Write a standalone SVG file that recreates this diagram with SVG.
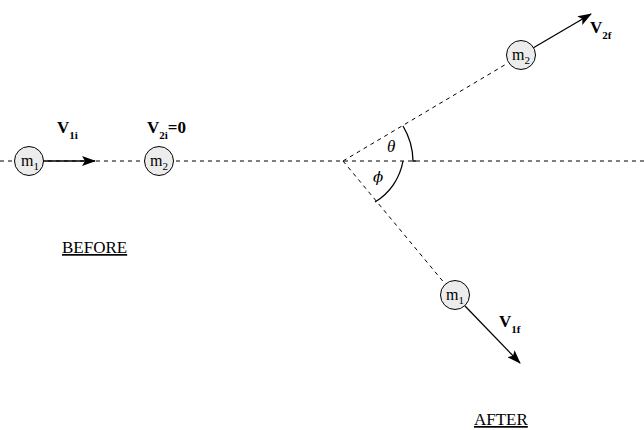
<svg xmlns="http://www.w3.org/2000/svg" width="644" height="430" viewBox="0 0 644 430">
<defs>
<marker id="ah" markerWidth="14" markerHeight="10" refX="13" refY="5" orient="auto" markerUnits="userSpaceOnUse">
<path d="M0,0 L14,5 L0,10 L3,5 Z" fill="#000"/>
</marker>
<style>
.dash{stroke:#000;stroke-width:1;stroke-dasharray:4,4;fill:none}
.ball{fill:#ececec;stroke:#000;stroke-width:1}
.vec{stroke:#000;stroke-width:1.3;fill:none;marker-end:url(#ah)}
.arc{stroke:#000;stroke-width:1.3;fill:none}
text{font-family:"Liberation Serif","Times New Roman",serif;fill:#000}
.m{font-size:16px}
.ms{font-size:11px}
.v{font-size:17px;font-weight:bold}
.sub{font-size:11px;font-weight:bold}
.lbl{font-size:17px;text-decoration:underline}
.g{font-size:17px;font-style:italic}
.phi{font-family:"DejaVu Serif",serif;font-size:15px;font-style:italic}
</style>
</defs>
<rect width="644" height="430" fill="#fff"/>
<g id="connectors">
<line class="dash" x1="0" y1="161" x2="644" y2="161"/>
<line class="dash" x1="343" y1="161" x2="508" y2="63"/>
<line class="dash" x1="343" y1="161" x2="446" y2="285"/>
<line class="vec" x1="43" y1="161" x2="95" y2="161"/>
<line class="vec" x1="533" y1="48" x2="591" y2="14"/>
<line class="vec" x1="465" y1="306" x2="520" y2="363"/>
<path class="arc" d="M403,126 A70,70 0 0 1 413,161 L416,161"/>
<path class="arc" d="M403,161 A60,60 0 0 1 375,202"/>
</g>
<g id="m1-before">
<circle class="ball" cx="29" cy="161" r="14.5"/>
<text class="m" x="21" y="166">m<tspan class="ms" dy="4">1</tspan></text>
</g>
<g id="m2-before">
<circle class="ball" cx="159" cy="161" r="14.5"/>
<text class="m" x="150" y="166">m<tspan class="ms" dy="4">2</tspan></text>
</g>
<g id="m2-after">
<circle class="ball" cx="521" cy="55" r="14.5"/>
<text class="m" x="512" y="60">m<tspan class="ms" dy="4">2</tspan></text>
</g>
<g id="m1-after">
<circle class="ball" cx="455" cy="295" r="14.5"/>
<text class="m" x="446" y="300">m<tspan class="ms" dy="4">1</tspan></text>
</g>
<g id="labels">
<text class="v" x="57" y="133">V<tspan class="sub" dy="6">1i</tspan></text>
<text class="v" x="147" y="133">V<tspan class="sub" dy="6">2i</tspan><tspan dy="-6">=0</tspan></text>
<text class="v" x="590" y="33">V<tspan class="sub" dy="6">2f</tspan></text>
<text class="v" x="499" y="327">V<tspan class="sub" dy="6">1f</tspan></text>
<text class="g" x="387" y="152">θ</text>
<text class="phi" x="373" y="182">ϕ</text>
<text class="lbl" x="62" y="253">BEFORE</text>
<text class="lbl" x="474" y="425">AFTER</text>
</g>
</svg>
